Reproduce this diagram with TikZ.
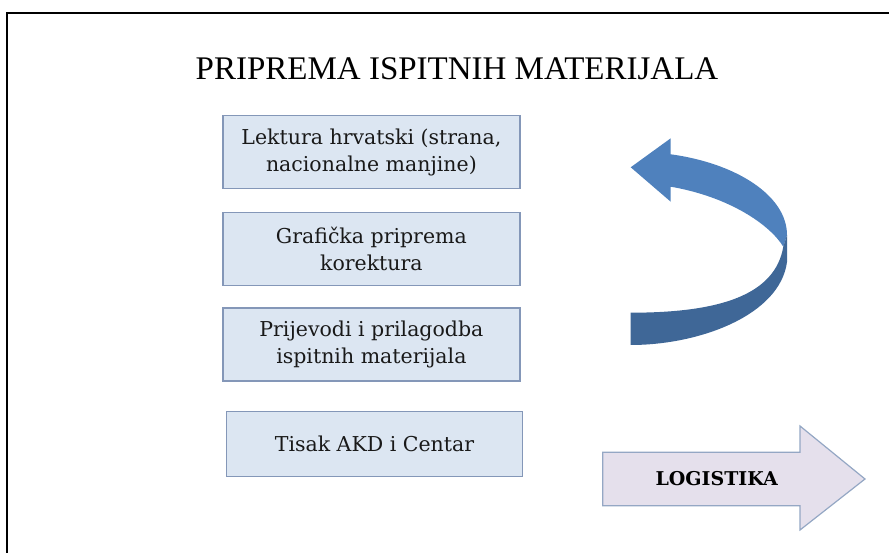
\documentclass[tikz,border=0pt]{standalone}
\usepackage{fontspec}
\setmainfont{DejaVu Serif}
\newfontfamily\naslovfont{Liberation Serif}
\usepackage{tikz}
\usetikzlibrary{calc}
\definecolor{kutijaplava}{HTML}{DCE6F2}
\definecolor{rubplava}{HTML}{8497B8}
\definecolor{strelicagore}{HTML}{4F81BD}
\definecolor{strelicadolje}{HTML}{3F6797}
\definecolor{lavanda}{HTML}{E5E0EC}
\definecolor{rublavanda}{HTML}{94A7C4}
\tikzset{
korak/.style={draw=rubplava,fill=kutijaplava,line width=1.2pt,align=center,
  minimum width=297pt,minimum height=73pt,inner sep=0pt,text=black!90,
  font=\fontsize{20.5}{27}\selectfont},
naslov/.style={font=\naslovfont\fontsize{33}{36}\selectfont},
okvir/.style={line width=2pt}}

\begin{document}
\begin{tikzpicture}[x=1pt,y=-1pt]
\useasboundingbox (0,0) rectangle (889,553);
\draw[okvir] (7,553) -- (7,13) -- (889,13);

\node[naslov] (naslov) at (457,69) {PRIPREMA ISPITNIH MATERIJALA};

\node[korak] (lektura) at (371.4,152.3) {Lektura hrvatski (strana,\\nacionalne manjine)};
\node[korak] (graficka) at (371.4,249.2) {Grafička priprema\\korektura};
\node[korak] (prijevodi) at (371.4,344.5) {Prijevodi i prilagodba\\ispitnih materijala};
\node[korak,minimum height=65pt,minimum width=296pt] (tisak) at (374.5,444.3) {Tisak AKD i Centar};

% zakrivljena strelica
\fill[strelicagore] (630.7,167.3) -- (670.7,138.3) -- (670.7,154.3)
  .. controls (735,163) and (787,195) .. (787,235) -- (783.3,246.7)
  .. controls (770,225) and (730,197) .. (670.7,186.7) -- (670.7,201.7) -- cycle;
\fill[strelicadolje] (787,235) -- (787,262)
  .. controls (780,315) and (700,345) .. (630.7,345) -- (630.7,312.7)
  .. controls (720,312.7) and (775,295) .. (783.3,246.7) -- cycle;

% logistika
\draw[draw=rublavanda,fill=lavanda,line width=1.2pt] (602.7,452.3) -- (800,452.3) -- (800,426)
  -- (865,479) -- (800,530) -- (800,505.7) -- (602.7,505.7) -- cycle;
\node[font=\bfseries\fontsize{19}{22}\selectfont] (logistika) at (716.7,479) {LOGISTIKA};
\end{tikzpicture}
\end{document}
